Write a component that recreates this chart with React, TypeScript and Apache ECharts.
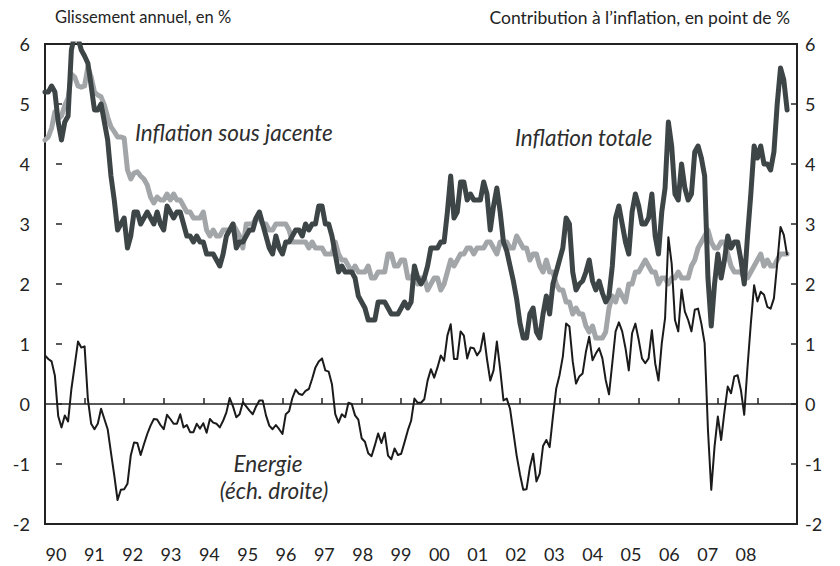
import React, { useEffect, useRef } from "react";
import * as echarts from "echarts";

// Monthly observations, first point = start of 1990 on the time axis
const startYear = 1990;

const xLabels = ["90","91","92","93","94","95","96","97","98","99","00","01","02","03","04","05","06","07","08"];
const yTicks = [-2, -1, 0, 1, 2, 3, 4, 5, 6];

// Inflation totale (glissement annuel, %)
const inflationTotale = [
  5.2,
  5.2, 5.3, 5.2, 4.7, 4.4, 4.7, 4.8, 5.9, 6.15, 6.1, 5.9, 5.8,
  5.68, 5.3, 4.9, 4.9, 5.0, 4.7, 4.4, 3.8, 3.4, 2.9, 3.0, 3.1,
  2.6, 2.8, 3.2, 3.2, 3.0, 3.1, 3.2, 3.1, 3.0, 3.2, 3.0, 2.9,
  3.3, 3.2, 3.1, 3.2, 3.2, 3.0, 2.8, 2.8, 2.7, 2.8, 2.7, 2.7,
  2.5, 2.5, 2.5, 2.4, 2.3, 2.5, 2.8, 2.9, 3.0, 2.6, 2.7, 2.7,
  2.8, 2.9, 2.9, 3.1, 3.2, 3.0, 2.8, 2.6, 2.5, 2.8, 2.6, 2.5,
  2.7, 2.7, 2.8, 2.9, 2.9, 2.8, 3.0, 2.9, 3.0, 3.0, 3.3, 3.3,
  3.0, 3.0, 2.8, 2.5, 2.2, 2.3, 2.2, 2.2, 2.2, 2.1, 1.8, 1.7,
  1.6, 1.4, 1.4, 1.4, 1.7, 1.7, 1.7, 1.6, 1.5, 1.5, 1.5, 1.6,
  1.7, 1.6, 1.7, 2.3, 2.1, 2.0, 2.1, 2.3, 2.6, 2.6, 2.6, 2.7,
  2.7, 3.2, 3.8, 3.1, 3.2, 3.7, 3.7, 3.4, 3.5, 3.4, 3.4, 3.4,
  3.7, 3.5, 2.9, 3.3, 3.6, 3.2, 2.7, 2.55, 2.3, 2.05, 1.75, 1.35,
  1.1, 1.1, 1.5, 1.6, 1.2, 1.1, 1.5, 1.8, 1.5, 2.0, 2.2, 2.4,
  2.6, 3.1, 3.0, 2.2, 1.9, 2.0, 2.05, 2.2, 2.4, 2.05, 1.9, 2.05,
  1.85, 1.7, 1.8, 2.3, 3.1, 3.3, 3.0, 2.7, 2.5, 3.2, 3.5, 3.3,
  3.0, 3.0, 3.1, 3.5, 2.8, 2.5, 3.2, 3.6, 4.7, 4.3, 3.5, 3.4,
  4.0, 3.6, 3.4, 3.5, 4.2, 4.3, 4.1, 3.8, 2.1, 1.3, 2.0, 2.5,
  2.1, 2.4, 2.8, 2.6, 2.7, 2.7, 2.4, 2.0, 2.8, 3.5, 4.3, 4.1,
  4.3, 4.0, 4.0, 3.9, 4.2, 5.0, 5.6, 5.4, 4.9
];

// Inflation sous-jacente (glissement annuel, %)
const inflationSousJacente = [
  4.4,
  4.45, 4.6, 4.87, 4.75, 4.8, 4.98, 5.1, 5.5, 5.45, 5.3, 5.28, 5.3,
  5.62, 5.45, 5.2, 5.15, 5.12, 4.98, 4.78, 4.62, 4.54, 4.45, 4.45, 4.43,
  3.9, 3.75, 3.85, 3.87, 3.8, 3.75, 3.65, 3.45, 3.35, 3.45, 3.4, 3.4,
  3.5, 3.4, 3.5, 3.4, 3.4, 3.3, 3.2, 3.2, 3.1, 3.1, 3.1, 3.2,
  2.9, 2.8, 2.9, 2.8, 2.8, 2.9, 2.9, 2.9, 3.0, 2.9, 2.8, 2.6,
  3.0, 3.0, 3.0, 3.1, 3.1, 3.0, 3.0, 2.9, 2.9, 3.0, 3.0, 3.0,
  3.0, 2.9, 2.7, 2.7, 2.7, 2.7, 2.7, 2.6, 2.7, 2.6, 2.6, 2.6,
  2.5, 2.5, 2.5, 2.7, 2.5, 2.4, 2.4, 2.3, 2.2, 2.3, 2.2, 2.2,
  2.2, 2.3, 2.1, 2.1, 2.2, 2.2, 2.2, 2.5, 2.5, 2.3, 2.3, 2.4,
  2.4, 2.1, 2.1, 2.2, 2.0, 2.1, 2.1, 1.9, 2.0, 2.1, 2.1, 1.9,
  2.0, 2.2, 2.4, 2.3, 2.4, 2.5, 2.5, 2.6, 2.6, 2.5, 2.6, 2.6,
  2.6, 2.7, 2.7, 2.6, 2.5, 2.7, 2.7, 2.7, 2.6, 2.6, 2.8, 2.7,
  2.6, 2.6, 2.4, 2.5, 2.5, 2.3, 2.2, 2.4, 2.2, 2.2, 2.0, 1.9,
  1.9, 1.7, 1.7, 1.5, 1.6, 1.5, 1.5, 1.3, 1.2, 1.3, 1.1, 1.1,
  1.1, 1.2, 1.6, 1.8, 1.7, 1.9, 1.8, 1.7, 2.0, 2.0, 2.2, 2.2,
  2.3, 2.4, 2.3, 2.2, 2.2, 2.0, 2.1, 2.1, 2.0, 2.1, 2.1, 2.2,
  2.1, 2.1, 2.1, 2.3, 2.4, 2.6, 2.7, 2.8, 2.9, 2.7, 2.6, 2.6,
  2.7, 2.7, 2.5, 2.3, 2.2, 2.2, 2.2, 2.1, 2.1, 2.2, 2.3, 2.4,
  2.5, 2.3, 2.4, 2.3, 2.3, 2.4, 2.5, 2.5, 2.5
];

// Energie : contribution a l'inflation (points de %, echelle de droite)
const energie = [
  0.81, 0.75, 0.71, 0.47, -0.2, -0.39, -0.19, -0.29, 0.25, 0.64, 1.04, 0.94,
  0.96, 0.08, -0.33, -0.42, -0.33, -0.08, -0.25, -0.42, -0.81, -1.19, -1.6, -1.43,
  -1.42, -1.33, -0.86, -0.64, -0.65, -0.85, -0.67, -0.5, -0.36, -0.25, -0.26, -0.35,
  -0.42, -0.18, -0.25, -0.33, -0.33, -0.17, -0.39, -0.35, -0.47, -0.47, -0.33, -0.41,
  -0.32, -0.48, -0.25, -0.31, -0.33, -0.39, -0.28, -0.14, 0.1, -0.04, -0.22, -0.17,
  0.03, -0.04, -0.11, -0.17, -0.04, 0.06, 0.06, -0.19, -0.36, -0.42, -0.35, -0.42,
  -0.5, -0.17, -0.12, 0.1, 0.24, 0.17, 0.15, 0.22, 0.25, 0.42, 0.61, 0.71,
  0.76, 0.56, 0.54, 0.33, -0.17, -0.31, -0.17, -0.22, 0.02, 0.0, -0.19, -0.26,
  -0.57, -0.63, -0.82, -0.87, -0.69, -0.49, -0.65, -0.48, -0.86, -0.92, -0.74, -0.85,
  -0.83, -0.64, -0.44, -0.28, 0.09, 0.02, 0.02, 0.08, 0.39, 0.58, 0.44, 0.61,
  0.81, 0.72, 1.14, 1.33, 0.75, 0.75, 1.21, 1.14, 0.76, 0.94, 0.93, 0.81,
  0.89, 1.18, 0.75, 0.39, 0.56, 1.04, 0.58, 0.06, 0.09, -0.08, -0.47, -0.86,
  -1.17, -1.43, -1.42, -1.06, -0.83, -1.29, -1.16, -0.7, -0.6, -0.72, -0.21, 0.26,
  0.48, 0.79, 1.34, 1.29, 0.71, 0.34, 0.46, 0.51, 0.87, 1.12, 0.73, 0.84,
  0.93, 0.76, 0.4, 0.16, 0.68, 1.21, 1.36, 1.21, 0.93, 0.56, 1.18, 1.34,
  1.07, 0.76, 0.68, 0.76, 1.23, 0.68, 0.39, 1.01, 1.43, 2.78, 2.34, 1.4,
  1.21, 1.91, 1.54, 1.4, 1.21, 1.57, 1.59, 1.34, 1.01, -0.43, -1.43, -0.71,
  -0.21, -0.6, -0.13, 0.29, 0.18, 0.46, 0.48, 0.23, -0.18, 0.62, 1.34, 1.98,
  1.71, 1.87, 1.82, 1.62, 1.59, 1.76, 2.34, 2.95, 2.82, 2.48
];

const toPoints = (arr: number[]) => arr.map((v, i) => [startYear + i / 12, v]);

const FONT = "Lato, 'Open Sans', sans-serif";
const INK = "#232323";

export default function App() {
  const ref = useRef<HTMLDivElement>(null);

  useEffect(() => {
    if (!ref.current) return;
    const chart = echarts.init(ref.current, undefined, { renderer: "svg" });

    const yAxisBase = {
      type: "value" as const,
      min: -2,
      max: 6,
      interval: 1,
      axisLine: { show: false },
      axisTick: { show: true, inside: true, length: 6, lineStyle: { color: INK, width: 1.5 } },
      splitLine: { show: false },
      axisLabel: {
        fontSize: 18,
        color: INK,
        fontFamily: FONT,
        formatter: (v: number) => (yTicks.includes(v) ? String(v) : ""),
      },
    };

    const italic = (text: string, x: number, y: number, align: string) => ({
      type: "text",
      x,
      y,
      style: { text, fontFamily: FONT, fontStyle: "italic", fontSize: 22.5, fill: "#2e2e2e", verticalAlign: "middle", align },
    });

    chart.setOption({
      animation: false,
      backgroundColor: "#ffffff",
      grid: {
        left: 45,
        right: 43,
        top: 44,
        bottom: 42,
        show: true,
        borderColor: INK,
        borderWidth: 2,
        backgroundColor: "transparent",
      },
      xAxis: [
        {
          type: "value",
          min: 1990,
          max: 2009,
          interval: 1,
          position: "bottom",
          axisLine: { show: true, onZero: true, lineStyle: { color: INK, width: 1.5 } },
          axisTick: { show: true, inside: true, length: 6, lineStyle: { color: INK, width: 1.5 } },
          axisLabel: { show: false },
          splitLine: { show: false },
        },
        {
          type: "value",
          min: -0.287,
          max: 19.33,
          position: "bottom",
          axisLine: { show: false, onZero: false },
          axisTick: { show: false },
          splitLine: { show: false },
          axisLabel: {
            customValues: xLabels.map((_, i) => i),
            formatter: (v: number) => xLabels[Math.round(v)] ?? "",
            fontSize: 18,
            color: INK,
            fontFamily: FONT,
            margin: 21,
          },
        },
      ],
      yAxis: [
        { ...yAxisBase, position: "left", axisLabel: { ...yAxisBase.axisLabel, margin: 15 } },
        { ...yAxisBase, position: "right", axisLabel: { ...yAxisBase.axisLabel, margin: 8 } },
      ],
      series: [
        {
          name: "Inflation sous jacente",
          type: "line",
          xAxisIndex: 0,
          yAxisIndex: 0,
          data: toPoints(inflationSousJacente),
          showSymbol: false,
          lineStyle: { color: "#a3a6a8", width: 5, join: "round", cap: "round" },
          z: 2,
        },
        {
          name: "Inflation totale",
          type: "line",
          xAxisIndex: 0,
          yAxisIndex: 0,
          data: toPoints(inflationTotale),
          showSymbol: false,
          lineStyle: { color: "#3d4547", width: 5, join: "round", cap: "round" },
          z: 3,
        },
        {
          name: "Energie",
          type: "line",
          xAxisIndex: 0,
          yAxisIndex: 1,
          data: toPoints(energie),
          showSymbol: false,
          lineStyle: { color: "#1b1b1b", width: 2, join: "round" },
          z: 4,
        },
      ],
      graphic: [
        {
          type: "text",
          x: 55,
          y: 17,
          style: { text: "Glissement annuel, en %", fontFamily: FONT, fontSize: 16.5, fill: INK, verticalAlign: "middle", align: "left" },
        },
        {
          type: "text",
          x: 790,
          y: 17,
          style: { text: "Contribution à l’inflation, en point de %", fontFamily: FONT, fontSize: 17.5, fill: INK, verticalAlign: "middle", align: "right" },
        },
        italic("Inflation sous jacente", 135, 132, "left"),
        italic("Inflation totale", 515, 137, "left"),
        italic("Energie", 268, 463, "center"),
        italic("(éch. droite)", 274, 490, "center"),
      ],
    });

    return () => chart.dispose();
  }, []);

  return (
    <div
      ref={ref}
      style={{ position: "absolute", left: 0, top: 0, width: 840, height: 566, background: "#fff" }}
    />
  );
}
